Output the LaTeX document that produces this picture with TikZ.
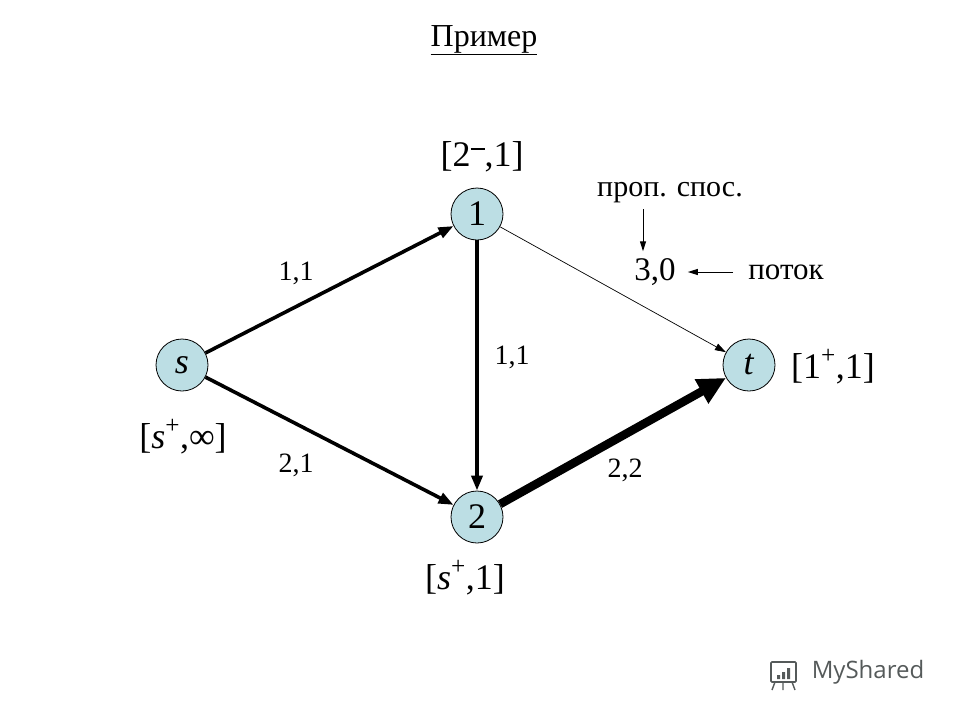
\documentclass[tikz,border=0pt]{standalone}
\usepackage{fontspec}
\setmainfont{Liberation Serif}
\newfontfamily\logofont{Open Sans}
\usepackage{tikz}
\usetikzlibrary{arrows.meta, positioning, calc}
\definecolor{nodeblue}{RGB}{188,222,228}
\definecolor{logogray}{RGB}{85,90,90}
\newcommand{\plusmark}{\raisebox{6pt}{\textsuperscript{+}}}
\newcommand{\minusmark}{\raisebox{17pt}{\rule{14pt}{1.8pt}}}
\tikzset{
  vertex/.style={circle, draw=black, fill=nodeblue, minimum size=52pt,
    inner sep=0pt, line width=0.8pt, font=\fontsize{36}{36}\selectfont},
  vmark/.style={font=\fontsize{36}{36}\selectfont, inner sep=0pt},
  elabel/.style={font=\fontsize{28}{28}\selectfont, inner sep=0pt},
  note/.style={font=\fontsize{30}{30}\selectfont, inner sep=0pt},
  flowarrow/.style={-{Triangle[length=15pt,width=11pt]}, line width=3.6pt},
  thinarrow/.style={-{Triangle[length=11pt,width=7pt]}, line width=0.7pt},
  fatarrow/.style={-{Triangle[length=28pt,width=26pt]}, line width=8.5pt},
  pointer/.style={-{Triangle[length=10pt,width=6pt]}, line width=1pt}
}
\begin{document}
\begin{tikzpicture}[x=1pt, y=-1pt]
  \useasboundingbox (0,0) rectangle (960,720);
  % title
  \node [font=\fontsize{32}{32}\selectfont, inner sep=0pt] (title) at (484,40) {\underline{Пример}};

  \node [vertex] (s) at (182,365) {\textit{s}};
  \node [vertex] (n1) at (477,214) {1};
  \node [vertex] (n2) at (477,517) {2};
  \node [vertex] (t) at (749,365) {\textit{t}};

  \draw [flowarrow] (s) -- (n1);
  \draw [flowarrow] (s) -- (n2);
  \draw [flowarrow] (n1) -- (n2);
  \draw [thinarrow] (n1) -- (t);
  \draw [fatarrow] (n2) -- (t);

  % labels of the edges
  \node [elabel] (c1) at (296,273) {1,1};
  \node [elabel] (c2) at (296,465) {2,1};
  \node [elabel] (c3) at (512,357) {1,1};
  \node [elabel] (c4) at (625,470) {2,2};
  \node [note, font=\fontsize{33}{33}\selectfont] (c5) at (655,272) {3,0};
  \node [note] (cap) at (670,193) {проп. спос.};
  \node [note, font=\fontsize{31}{31}\selectfont] (flow) at (786,272) {поток};
  \draw [pointer] ([xshift=-27pt, yshift=-6pt]cap.south) -- ([xshift=-12pt, yshift=7pt]c5.north);
  \draw [pointer] ([xshift=-15pt]flow.west) -- ([xshift=12pt]c5.east);

  % marks of the vertices
  \node [vmark] (m1) at (482,157) {[2\minusmark,1]};
  \node [vmark] (mt) at (833,367) {[1\plusmark,1]};
  \node [vmark] (ms) at (183,437) {[\textit{s}\plusmark,∞]};
  \node [vmark] (m2) at (465,578) {[\textit{s}\plusmark,1]};

  % watermark
  \node [font=\logofont\fontsize{24}{24}\selectfont, text=logogray, inner sep=0pt] (logo) at (868,672) {MyShared};
  \draw [logogray, line width=1.6pt, rounded corners=1pt] (771,662) rectangle (796,682);
  \fill [logogray] (777,675) rectangle (780,679) (782,672) rectangle (785,679) (787,668) rectangle (790,679);
  \draw [logogray, line width=1.4pt] (775,682) -- (772,690) (783,682) -- (783,690) (792,682) -- (795,690);
\end{tikzpicture}
\end{document}
